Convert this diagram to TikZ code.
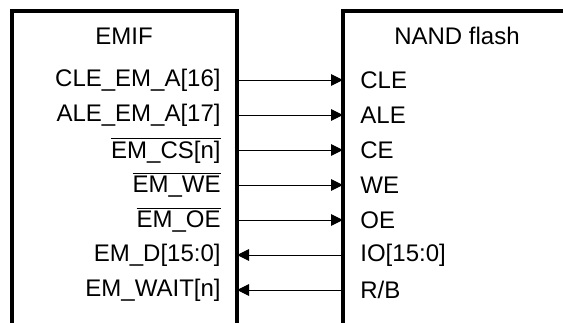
\documentclass[tikz,border=0pt]{standalone}
\usepackage{fontspec}
\setmainfont{Liberation Sans}
\usepackage{tikz}
\usetikzlibrary{arrows.meta,positioning}
\newcommand{\ovl}[1]{$\overline{\mbox{#1}}$}

\begin{document}
\begin{tikzpicture}[x=0.5pt,y=-0.5pt,
  box/.style={line width=1.6pt,color=black},
  pin/.style={font=\fontsize{12}{14}\selectfont,inner sep=0pt},
  title/.style={font=\fontsize{12}{14}\selectfont,inner sep=0pt},
  sig/.style={line width=0.5pt,-{Triangle[length=6pt,width=5.8pt]}}
]
\useasboundingbox (0,0) rectangle (563,322);
% device outlines (open at the picture edges)
\draw[box] (12,330) -- (12,11) -- (237,11) -- (237,330);
\draw[box] (343,330) -- (343,11) -- (570,11);
\node[title] (emif) at (124,36) {EMIF};
\node[title] (nand) at (457,36) {NAND flash};

% signal rows: outputs from EMIF
\foreach \i/\y/\a/\b in {1/80/{CLE\_EM\_A[16]}/CLE,2/115/{ALE\_EM\_A[17]}/ALE,
  3/150/{\ovl{EM\_CS[n]}}/CE,4/185/{\ovl{EM\_WE}}/WE,5/220/{\ovl{EM\_OE}}/OE}{
  \node[pin,anchor=east] (em\i) at (221,\y) {\a};
  \node[pin,anchor=west] (nf\i) at (360,\y) {\b};
  \coordinate (lo\i) at (237,\y);
  \coordinate (ro\i) at (343,\y);
  \draw[sig] (lo\i) -- (ro\i);
}
% signal rows: inputs to EMIF
\foreach \i/\y/\a/\b in {6/255/{EM\_D[15:0]}/{IO[15:0]},7/290/{EM\_WAIT[n]}/{R/B}}{
  \node[pin,anchor=east] (em\i) at (221,\y) {\a};
  \node[pin,anchor=west] (nf\i) at (360,\y) {\b};
  \coordinate (lo\i) at (237,\y);
  \coordinate (ro\i) at (343,\y);
  \draw[sig] (ro\i) -- (lo\i);
}
\end{tikzpicture}
\end{document}
